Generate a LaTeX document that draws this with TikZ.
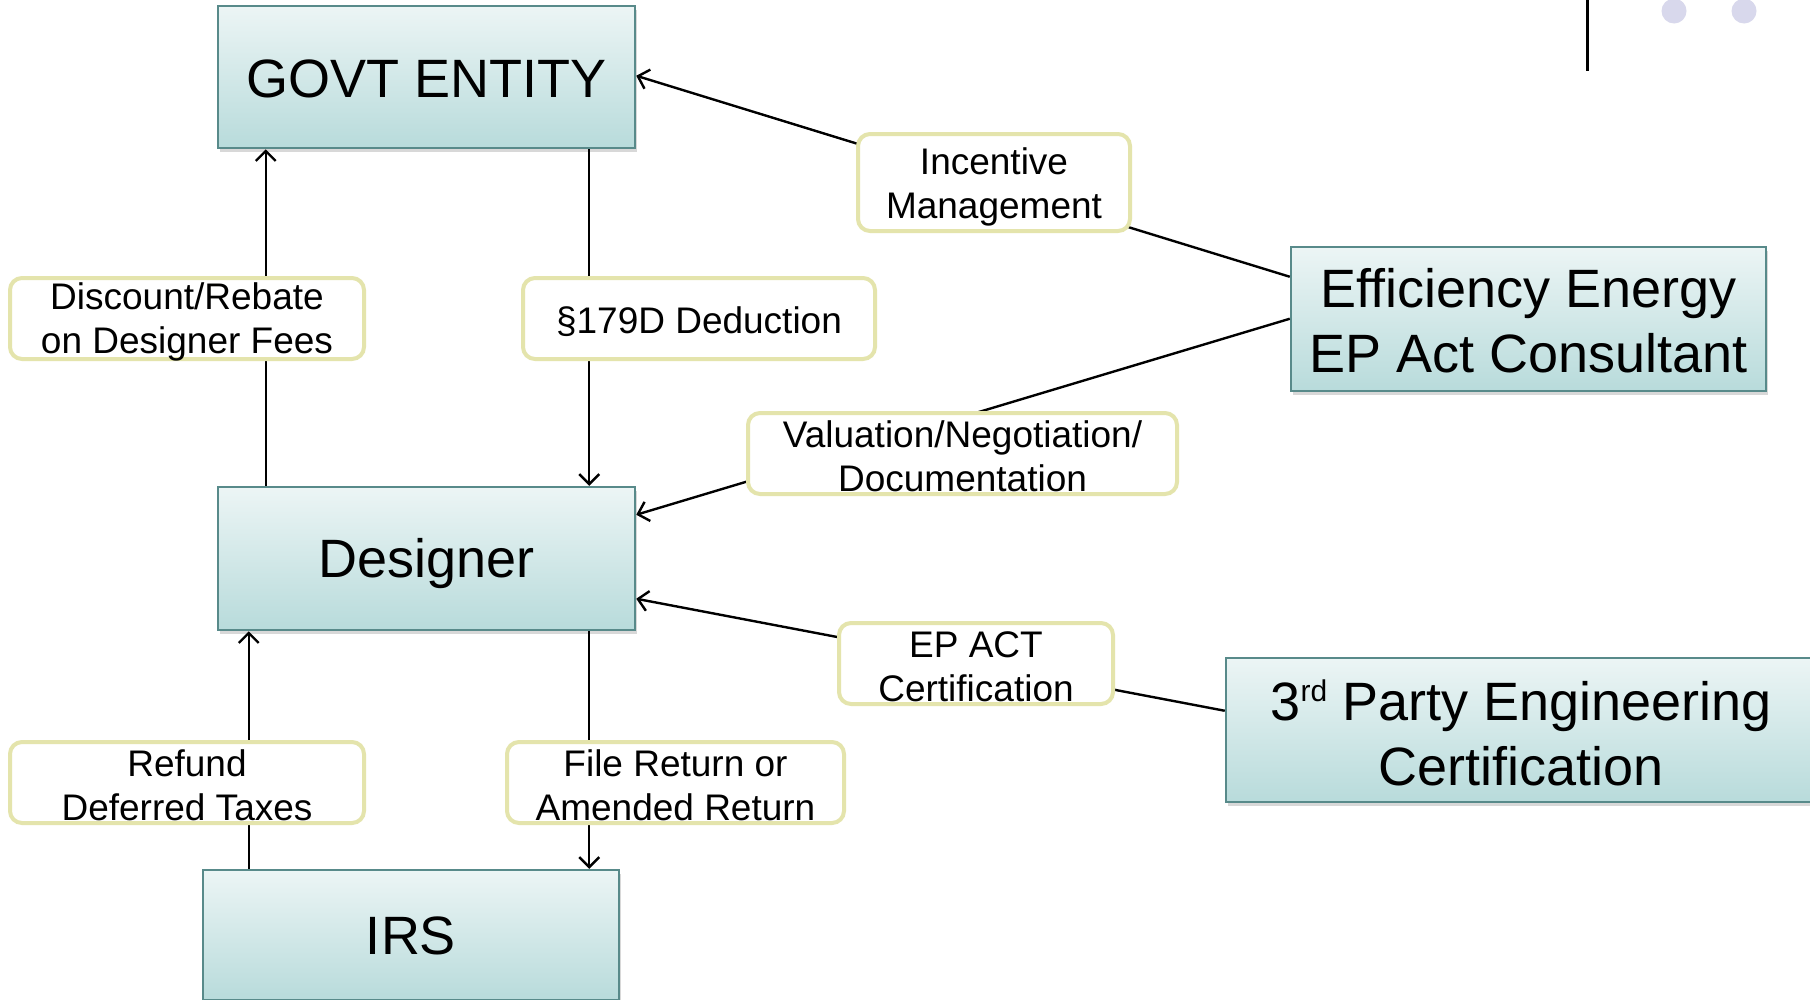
\documentclass[tikz,border=0pt]{standalone}
\usepackage{fontspec}
\setmainfont{Liberation Sans}
\usetikzlibrary{arrows.meta,shadows}
\definecolor{boxtop}{RGB}{236,245,245}
\definecolor{boxbot}{RGB}{184,219,219}
\definecolor{boxline}{RGB}{88,138,138}
\definecolor{lblline}{RGB}{228,228,172}
\definecolor{dotc}{RGB}{216,216,236}
\begin{document}
\begin{tikzpicture}[x=1pt,y=-1pt,
  bigbox/.style={draw=boxline, line width=2.5pt, top color=boxtop, bottom color=boxbot,
    drop shadow={shadow xshift=2pt,shadow yshift=-4pt,opacity=0.3}, inner sep=0pt},
  bigtxt/.style={font=\fontsize{54}{65}\selectfont, align=center, inner sep=0pt},
  lbl/.style={draw=lblline, line width=4pt, rounded corners=12pt, fill=white, inner sep=0pt},
  lbltxt/.style={font=\fontsize{37}{44}\selectfont, align=center, inner sep=0pt},
  conn/.style={line width=2.4pt, draw=black},
  arr/.style={conn, -{Straight Barb[length=10pt,width=20pt,line width=2.4pt]}}]
\clip (0,0) rectangle (1810,999);
\fill[white] (0,0) rectangle (1810,999);
% decoration
\draw[line width=3pt] (1587,0) coordinate (d1) -- (1587,71) coordinate (d2);
\fill[dotc] (1674,11) circle (12.5);
\fill[dotc] (1744,11) circle (12.5);
% main boxes
\node[bigbox, minimum width=417pt, minimum height=142pt] (govt) at (426.5,77) {};
\node[bigtxt] at ([yshift=-2pt]govt.center) {GOVT ENTITY};
\node[bigbox, minimum width=417pt, minimum height=143pt] (des) at (426.5,558.5) {};
\node[bigtxt] at ([yshift=-5pt]des.center) {Designer};
\node[bigbox, minimum width=416pt, minimum height=130pt] (irs) at (411,935) {};
\node[bigtxt] at ([yshift=-1pt]irs.center) {IRS};
\node[bigbox, minimum width=475pt, minimum height=144pt] (eff) at (1528.5,319) {};
\node[bigtxt] at ([yshift=-2pt]eff.center) {Efficiency Energy\\EP Act Consultant};
\node[bigbox, minimum width=590pt, minimum height=144pt] (third) at (1521,730) {};
\node[bigtxt] at ([yshift=-3pt]third.center) {3\raisebox{19pt}{\fontsize{30}{30}\selectfont rd} Party Engineering\\Certification};
% connectors
\draw[arr] ([xshift=49pt]des.north west) -- ([xshift=49pt]govt.south west);
\draw[arr] ([xshift=-47pt]govt.south east) -- ([xshift=-47pt]des.north east);
\draw[arr] ([xshift=47pt]irs.north west) -- ([xshift=32pt]des.south west);
\draw[arr] ([xshift=-47pt]des.south east) -- ([xshift=-31pt]irs.north east);
\draw[arr] ([yshift=-31pt]eff.north west) -- ([yshift=-71pt]govt.north east);
\draw[arr] ([yshift=-73pt]eff.north west) -- ([yshift=-29pt]des.north east);
\draw[arr] ([yshift=-54pt]third.north west) -- ([yshift=-113pt]des.north east);
% labels
\node[lbl, minimum width=354pt, minimum height=81pt] (disc) at (187,318.5) {};
\node[lbltxt] at ([yshift=-3pt]disc.center) {Discount/Rebate\\on Designer Fees};
\node[lbl, minimum width=352pt, minimum height=81pt] (ded) at (699,318.5) {};
\node[lbltxt] at ([yshift=-3pt]ded.center) {§179D Deduction};
\node[lbl, minimum width=272pt, minimum height=97pt] (inc) at (994,182.5) {};
\node[lbltxt] at ([yshift=-4pt]inc.center) {Incentive\\Management};
\node[lbl, minimum width=429pt, minimum height=81pt] (val) at (962.5,453.5) {};
\node[lbltxt] at ([yshift=-3pt]val.center) {Valuation/Negotiation/\\Documentation};
\node[lbl, minimum width=274pt, minimum height=81pt] (epact) at (976,663.5) {};
\node[lbltxt] at ([yshift=-3pt]epact.center) {EP ACT\\Certification};
\node[lbl, minimum width=354pt, minimum height=81pt] (ref) at (187,782.5) {};
\node[lbltxt] at ([yshift=-3pt]ref.center) {Refund\\Deferred Taxes};
\node[lbl, minimum width=337pt, minimum height=81pt] (file) at (675.5,782.5) {};
\node[lbltxt] at ([yshift=-3pt]file.center) {File Return or\\Amended Return};
\end{tikzpicture}
\end{document}
